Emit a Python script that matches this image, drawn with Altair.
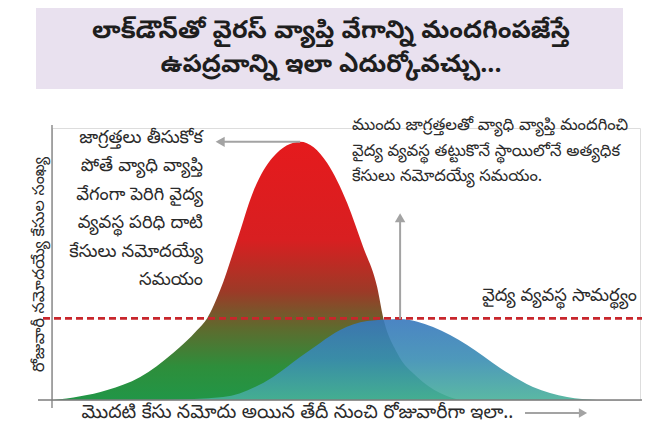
import altair as alt
import pandas as pd

# ---- data (x: days since first case, y: daily cases, relative units) ----
red_day = [0.2, 9.4, 15.0, 20.6, 24.7, 26.4, 28.6, 31.5, 34.2, 37.6, 42.2, 46.8, 50.2, 52.9, 55.3, 56.3, 58.7, 62.1, 66.0, 69.4]
red_cases = [0.0, 3.7, 8.5, 17.3, 25.7, 30.1, 40.4, 58.8, 76.5, 89.3, 94.9, 87.1, 72.4, 56.3, 41.5, 30.5, 17.3, 8.5, 2.6, 0.0]

blue_day = [19.2, 29.1, 37.6, 42.2, 45.6, 49.0, 53.6, 59.2, 64.8, 70.6, 76.2, 81.8, 87.6, 92.7]
blue_cases = [0.0, 1.1, 8.5, 15.8, 21.0, 25.7, 29.0, 29.8, 26.8, 20.2, 11.8, 4.8, 1.1, 0.0]

capacity = [30]

title_lines = ["లాక్‌డౌన్‌తో వైరస్ వ్యాప్తి వేగాన్ని మందగింపజేస్తే", "ఉపద్రవాన్ని ఇలా ఎదుర్కోవచ్చు..."]
left_note = ["జాగ్రత్తలు తీసుకోక", "పోతే వ్యాధి వ్యాప్తి", "వేగంగా పెరిగి వైద్య", "వ్యవస్థ పరిధి దాటి", "కేసులు నమోదయ్యే", "సమయం"]
right_note = ["ముందు జాగ్రత్తలతో వ్యాధి వ్యాప్తి మందగించి", "వైద్య వ్యవస్థ తట్టుకొనే స్థాయిలోనే అత్యధిక", "కేసులు నమోదయ్యే సమయం."]
capacity_label = "వైద్య వ్యవస్థ సామర్థ్యం"
x_title = "మొదటి కేసు నమోదు అయిన తేదీ నుంచి రోజువారీగా ఇలా.."
y_title = "రోజువారీ నమోదయ్యే కేసుల సంఖ్య"

FONT = "Noto Sans Telugu, Lohit Telugu, Gurajada, Ramabhadra, Pothana2000, sans-serif"
GREY = "#a3a3a3"
INK = "#2b2b2b"
W, H = 588, 272

red_df = pd.DataFrame({"day": red_day, "cases": red_cases})
blue_df = pd.DataFrame({"day": blue_day, "cases": blue_cases})
cap_df = pd.DataFrame({"cases": capacity})

xs = alt.Scale(domain=[0, 100], nice=False, zero=False)
ys = alt.Scale(domain=[0, 100], nice=False)

one = alt.Data(values=[{}])

banner = alt.Chart(one).mark_rect(color="#e9e1ef").encode(
    x=alt.value(-16), x2=alt.value(571), y=alt.value(-120), y2=alt.value(-39)
)
title_txt = alt.Chart(one).mark_text(
    align="center", baseline="top", font=FONT, fontSize=25, fontWeight="bold",
    color="#1e1e1e", lineHeight=34, lineBreak="\n"
).encode(x=alt.value(279), y=alt.value(-110), text=alt.value("\n".join(title_lines)))

red_grad = alt.Gradient(
    gradient="linear", x1=1, x2=1, y1=0, y2=1,
    stops=[
        alt.GradientStop(color="#e51a1d", offset=0),
        alt.GradientStop(color="#d81f21", offset=0.38),
        alt.GradientStop(color="#9c3a27", offset=0.58),
        alt.GradientStop(color="#5f6a2e", offset=0.72),
        alt.GradientStop(color="#2e8e3b", offset=0.87),
        alt.GradientStop(color="#219647", offset=1),
    ],
)
blue_grad = alt.Gradient(
    gradient="linear", x1=1, x2=1, y1=0, y2=1,
    stops=[
        alt.GradientStop(color="#3777bd", offset=0),
        alt.GradientStop(color="#3a8db3", offset=0.5),
        alt.GradientStop(color="#48b199", offset=1),
    ],
)

red = alt.Chart(red_df).mark_area(interpolate="monotone", color=red_grad).encode(
    x=alt.X("day:Q", scale=xs, axis=alt.Axis(
        title=x_title, domain=False, ticks=False, labels=False, grid=False,
        titleFont=FONT, titleFontSize=19, titleFontWeight="normal", titleColor=INK,
        titleX=245, titleAnchor="middle", titleAlign="center", titlePadding=2)),
    y=alt.Y("cases:Q", scale=ys, axis=alt.Axis(
        title=y_title, domain=False, ticks=False, labels=False, grid=False,
        titleFont=FONT, titleFontSize=16, titleFontWeight="normal", titleColor=INK,
        titlePadding=6)),
)

blue = alt.Chart(blue_df).mark_area(interpolate="monotone", color=blue_grad, opacity=0.9).encode(
    x=alt.X("day:Q", scale=xs), y=alt.Y("cases:Q", scale=ys)
)

cap_line = alt.Chart(cap_df).mark_rule(color="#c8262c", strokeWidth=2.6, strokeDash=[7, 4]).encode(
    y=alt.Y("cases:Q", scale=ys), x=alt.value(-9), x2=alt.value(W + 8)
)

axis_x = alt.Chart(one).mark_rule(color="#7d7d7d", strokeWidth=1.3).encode(
    y=alt.datum(0, scale=ys), x=alt.value(-14), x2=alt.value(W + 6)
)
axis_y = alt.Chart(one).mark_rule(color="#7d7d7d", strokeWidth=1.3).encode(
    x=alt.datum(0, scale=xs), y=alt.value(-3), y2=alt.value(H + 8)
)

# arrows tied to the curves' peaks
ri = red_cases.index(max(red_cases))
bi = blue_cases.index(max(blue_cases))
harrow_df = pd.DataFrame({"x": [red_day[ri]], "x2": [28.6], "y": [red_cases[ri]]})
varrow_df = pd.DataFrame({"x": [blue_day[bi]], "y": [blue_cases[bi]], "y2": [67.0]})

h_line = alt.Chart(harrow_df).mark_rule(color=GREY, strokeWidth=2).encode(
    x=alt.X("x:Q", scale=xs), x2="x2:Q", y=alt.Y("y:Q", scale=ys))
h_head = alt.Chart(harrow_df).mark_point(shape="triangle-left", filled=True, color=GREY, size=110, opacity=1).encode(
    x=alt.X("x2:Q", scale=xs), y=alt.Y("y:Q", scale=ys))
v_line = alt.Chart(varrow_df).mark_rule(color=GREY, strokeWidth=2).encode(
    x=alt.X("x:Q", scale=xs), y=alt.Y("y:Q", scale=ys), y2="y2:Q")
v_head = alt.Chart(varrow_df).mark_point(shape="triangle-up", filled=True, color=GREY, size=110, opacity=1).encode(
    x=alt.X("x:Q", scale=xs), y=alt.Y("y2:Q", scale=ys))

x_arrow = alt.Chart(one).mark_rule(color=GREY, strokeWidth=2).encode(
    x=alt.value(473), x2=alt.value(527), y=alt.value(285))
x_head = alt.Chart(one).mark_point(shape="triangle-right", filled=True, color=GREY, size=90, opacity=1).encode(
    x=alt.value(531), y=alt.value(285))

text_style = dict(font=FONT, color=INK, lineBreak="\n")
left_txt = alt.Chart(one).mark_text(
    align="right", baseline="top", fontSize=18, lineHeight=28.4, **text_style
).encode(x=alt.value(151), y=alt.value(1), text=alt.value("\n".join(left_note)))
right_txt = alt.Chart(one).mark_text(
    align="left", baseline="top", fontSize=16.5, lineHeight=25.5, **text_style
).encode(x=alt.value(300), y=alt.value(-11), text=alt.value("\n".join(right_note)))
cap_txt = alt.Chart(one).mark_text(
    align="right", baseline="middle", fontSize=18, **text_style
).encode(x=alt.value(585), y=alt.value(168), text=alt.value(capacity_label))

chart = alt.layer(
    banner, title_txt, red, blue, cap_line, axis_x, axis_y, h_line, h_head, v_line, v_head,
    x_arrow, x_head, left_txt, right_txt, cap_txt
).properties(
    width=W, height=H,
    autosize=alt.AutoSizeParams(type="none"),
    padding={"left": 44, "top": 120, "right": 2, "bottom": 28},
).configure_view(stroke=None).configure(background="white")

chart.save("out.html", embed_options={"renderer": "svg", "actions": False})
